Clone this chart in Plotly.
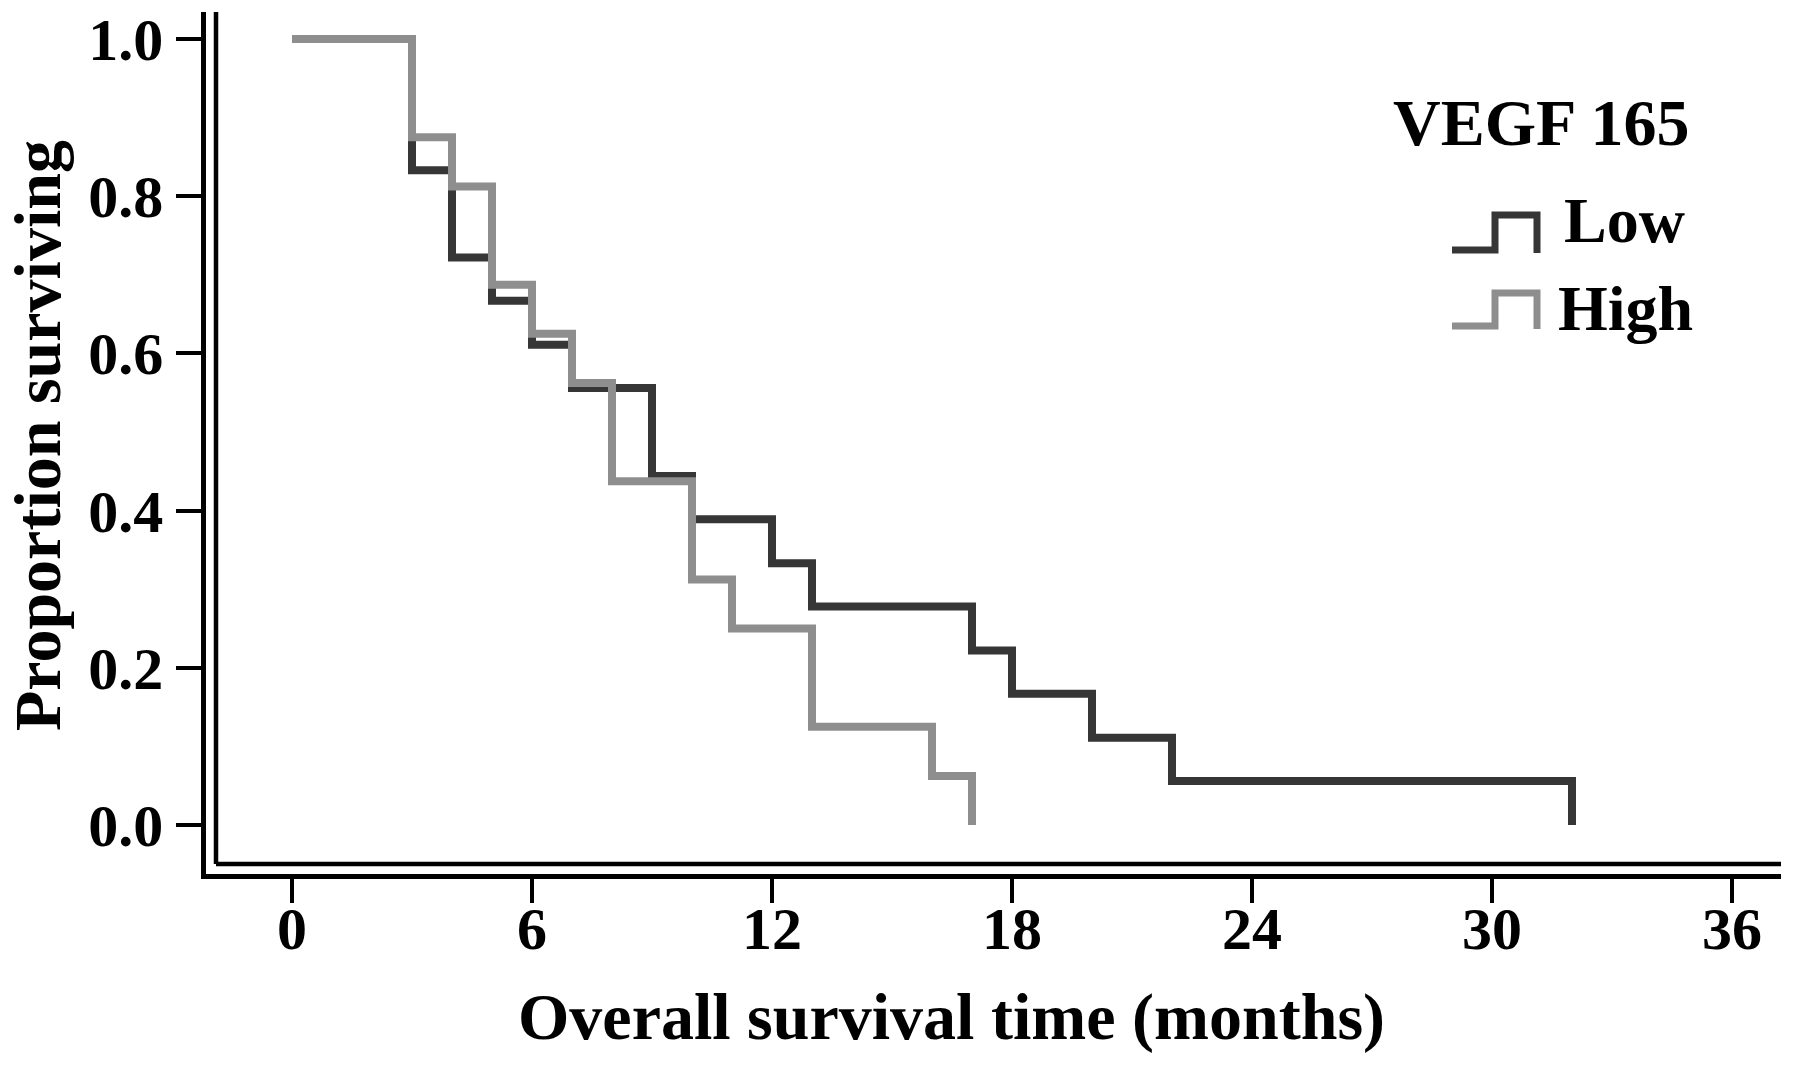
import plotly.graph_objects as go

# Kaplan-Meier steps
low_time = [0, 3, 4, 5, 6, 7, 9, 10, 12, 13, 17, 18, 20, 22, 32]
low_surv = [1.0, 0.833, 0.722, 0.667, 0.611, 0.556, 0.444, 0.389, 0.333, 0.278, 0.222, 0.167, 0.111, 0.056, 0.0]
high_time = [0, 3, 4, 5, 6, 7, 8, 10, 11, 13, 16, 17]
high_surv = [1.0, 0.875, 0.8125, 0.6875, 0.625, 0.5625, 0.4375, 0.3125, 0.25, 0.125, 0.0625, 0.0]

x_ticks = [0, 6, 12, 18, 24, 30, 36]
y_ticks = [0.0, 0.2, 0.4, 0.6, 0.8, 1.0]
y_ticktext = ["0.0", "0.2", "0.4", "0.6", "0.8", "1.0"]

series_names = ["Low", "High"]
legend_title = "VEGF 165"
x_title = "Overall survival time (months)"
y_title = "Proportion surviving"

DARK = "#363636"
GRAY = "#8e8e8e"
FONT = "Liberation Serif"

W, H = 1795, 1065
L, R, T, B = 206, 14, 12, 191
PW, PH = W - L - R, H - T - B


def px(xp):
    return (xp - L) / PW


def py(yp):
    return (H - B - yp) / PH


fig = go.Figure()
fig.add_trace(go.Scatter(x=low_time, y=low_surv, mode="lines", line_shape="hv",
                         line=dict(color=DARK, width=8), name=series_names[0], showlegend=False))
fig.add_trace(go.Scatter(x=high_time, y=high_surv, mode="lines", line_shape="hv",
                         line=dict(color=GRAY, width=8), name=series_names[1], showlegend=False))

tickfont = dict(family=FONT, size=60, color="black", weight="bold")
titlefont = dict(family=FONT, size=66, color="black", weight="bold")

fig.update_layout(
    width=W, height=H,
    margin=dict(l=L, r=R, t=T, b=B, autoexpand=False),
    paper_bgcolor="white", plot_bgcolor="white",
    xaxis=dict(range=[-2.15, 37.225], tickvals=x_ticks, showline=True, linewidth=4.5,
               linecolor="black", ticks="outside", ticklen=24, tickwidth=4, tickcolor="black",
               showgrid=False, zeroline=False, tickfont=tickfont, ticklabelstandoff=-26),
    yaxis=dict(range=[-0.0623, 1.0344], tickvals=y_ticks, ticktext=y_ticktext, showline=True,
               linewidth=4.5, linecolor="black", ticks="outside", ticklen=25, tickwidth=4,
               tickcolor="black", showgrid=False, zeroline=False, tickfont=tickfont,
               ticklabelstandoff=1),
)

# axis titles
fig.add_annotation(xref="paper", yref="paper", x=px(951), y=py(1017), text=x_title,
                   showarrow=False, xanchor="center", yanchor="middle", font=titlefont)
fig.add_annotation(xref="paper", yref="paper", x=px(37), y=py(436), text=y_title,
                   textangle=-90, showarrow=False, xanchor="center", yanchor="middle",
                   font=titlefont)

# inner frame lines (double axis look)
xi, yi = px(216), py(864)
fig.add_shape(type="line", xref="paper", yref="paper", x0=xi, x1=xi, y0=yi, y1=1,
              line=dict(color="black", width=4.5))
fig.add_shape(type="line", xref="paper", yref="paper", x0=xi, x1=1, y0=yi, y1=yi,
              line=dict(color="black", width=4.5))


def step_path(x0, xm, x1, yb, yt, ye):
    return (f"M {px(x0)} {py(yb)} L {px(xm)} {py(yb)} L {px(xm)} {py(yt)} "
            f"L {px(x1)} {py(yt)} L {px(x1)} {py(ye)}")


fig.add_shape(type="path", xref="paper", yref="paper",
              path=step_path(1452, 1495, 1537, 250, 215, 253), line=dict(color=DARK, width=7))
fig.add_shape(type="path", xref="paper", yref="paper",
              path=step_path(1452, 1495, 1537, 326, 293, 329), line=dict(color=GRAY, width=7))

lfont = dict(family=FONT, size=64, color="black", weight="bold")
fig.add_annotation(xref="paper", yref="paper", x=px(1541), y=py(122), text=legend_title,
                   showarrow=False, xanchor="center", yanchor="middle", font=titlefont)
fig.add_annotation(xref="paper", yref="paper", x=px(1562), y=py(221), text=series_names[0],
                   showarrow=False, xanchor="left", yanchor="middle", font=lfont)
fig.add_annotation(xref="paper", yref="paper", x=px(1556), y=py(308), text=series_names[1],
                   showarrow=False, xanchor="left", yanchor="middle", font=lfont)

fig.write_html("out.html", config={"displayModeBar": False},
               post_script="document.body.style.margin='0px';")
